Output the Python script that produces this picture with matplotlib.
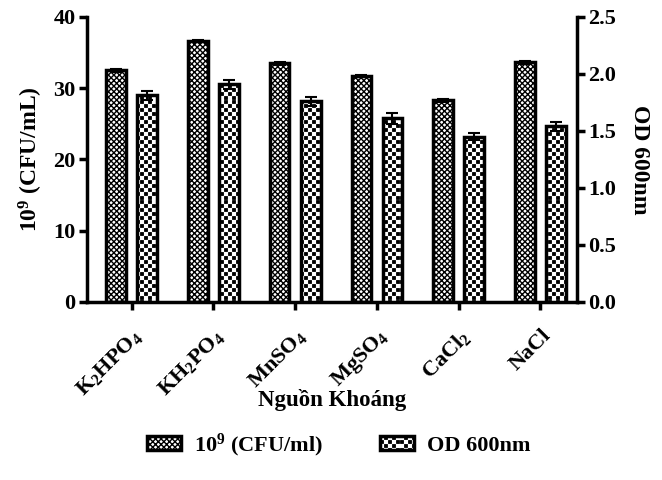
import matplotlib
matplotlib.use('Agg')
from matplotlib import pyplot as plt
from matplotlib import hatch as mhatch
from matplotlib.path import Path
import numpy as np

plt.rcParams['font.family'] = ['Liberation Serif', 'DejaVu Serif']
plt.rcParams['font.weight'] = 'bold'
plt.rcParams['mathtext.fontset'] = 'custom'
plt.rcParams['mathtext.rm'] = 'Liberation Serif:bold'
plt.rcParams['mathtext.it'] = 'Liberation Serif:bold'
plt.rcParams['mathtext.bf'] = 'Liberation Serif:bold'
plt.rcParams['hatch.linewidth'] = 1.0


# tramado de tablero de ajedrez: reemplaza al patron 'O'
class Tablero(mhatch.HatchPatternBase):
  def __init__(self, hatch, density):
    self.n = hatch.count('O') * 5
    self.num_vertices = ((self.n * self.n + 1) // 2) * 5

  def set_vertices_and_codes(self, vertices, codes):
    n = self.n
    d = 1.0 / n
    m = 0.2 * d
    k = 0
    for i in range(n):
      for j in range(n):
        if (i + j) % 2:
          continue
        x0, y0 = i * d + m, j * d + m
        x1, y1 = (i + 1) * d - m, (j + 1) * d - m
        vertices[k:k + 5] = [(x0, y0), (x1, y0), (x1, y1), (x0, y1), (x0, y0)]
        codes[k:k + 5] = [Path.MOVETO, Path.LINETO, Path.LINETO, Path.LINETO, Path.CLOSEPOLY]
        k += 5


mhatch._hatch_types = [t for t in mhatch._hatch_types if t is not mhatch.LargeCircles] + [Tablero]

nhan = ['K$_2$HPO$_4$', 'KH$_2$PO$_4$', 'MnSO$_4$', 'MgSO$_4$', 'CaCl$_2$', 'NaCl']
cfu = [32.5, 36.6, 33.5, 31.7, 28.3, 33.6]
cfu_err = [0.2, 0.2, 0.2, 0.2, 0.2, 0.2]
od = [1.81, 1.91, 1.76, 1.61, 1.45, 1.54]
od_err = [0.04, 0.04, 0.04, 0.05, 0.03, 0.04]

x = np.arange(len(nhan))
ancho = 0.24

fig = plt.figure(figsize=(6.62, 4.8), dpi=100)
ax = fig.add_axes([0.131, 0.371, 0.741, 0.594])
ax2 = ax.twinx()

err = dict(ecolor='black', elinewidth=1.5, capsize=4, capthick=1.5)
b1 = ax.bar(x - 0.19, cfu, ancho, yerr=cfu_err, color='white', edgecolor='black',
            linewidth=2.5, hatch='xxxxxx', error_kw=err)
b2 = ax2.bar(x + 0.19, od, ancho, yerr=od_err, color='white', edgecolor='black',
             linewidth=2.5, hatch='OOOOO', error_kw=err)

ax.set_xlim(-0.55, 5.45)
ax.set_ylim(0, 40)
ax2.set_ylim(0, 2.5)
ax.set_yticks([0, 10, 20, 30, 40])
ax2.set_yticks([0, 0.5, 1.0, 1.5, 2.0, 2.5])
ax2.set_yticklabels(['0.0', '0.5', '1.0', '1.5', '2.0', '2.5'])
ax.set_xticks(x)
ax.set_xticklabels(nhan, rotation=45, ha='right', rotation_mode='anchor', fontsize=16)

for a in (ax, ax2):
  a.spines['top'].set_visible(False)
  for s in a.spines.values():
    s.set_linewidth(2.5)
  a.tick_params(width=2.5, length=6, labelsize=16, pad=2)
ax.tick_params(axis='x', pad=11)
ax.spines['right'].set_visible(False)
ax2.spines['left'].set_visible(False)
ax2.spines['bottom'].set_visible(False)

ax.set_ylabel('10$^9$ (CFU/mL)', fontsize=17, fontweight='bold', labelpad=6)
ax2.set_ylabel('OD 600nm', fontsize=17, fontweight='bold', rotation=270, labelpad=24)
ax.set_xlabel('Nguồn Khoáng', fontsize=16.5, fontweight='bold')
ax.xaxis.set_label_coords(0.5, -0.305)

fig.legend([b1, b2], ['10$^9$ (CFU/ml)', 'OD 600nm'], loc='center', bbox_to_anchor=(0.512, 0.073),
           ncol=2, frameon=False, fontsize=16, handlelength=1.5, handleheight=0.6,
           handletextpad=0.6, columnspacing=2.6)

fig.savefig('out.png', dpi=100)
